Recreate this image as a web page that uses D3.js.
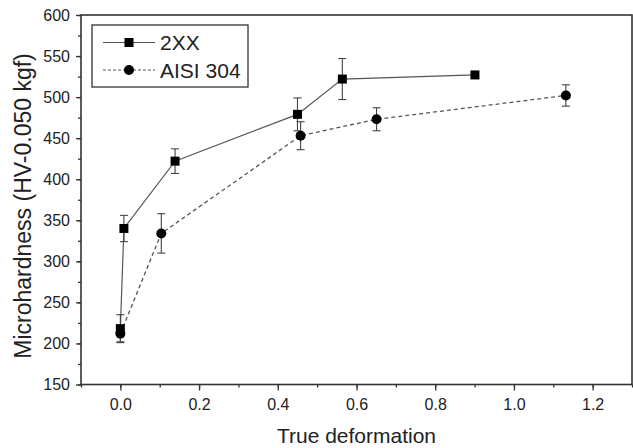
<!DOCTYPE html>
<html>
<head>
<meta charset="utf-8">
<script src="https://cdn.jsdelivr.net/npm/d3@7"></script>
<style>
  body { margin: 0; background: #fff; }
  svg text { font-family: "Liberation Sans", Arial, sans-serif; fill: #222; }
</style>
</head>
<body>
<svg id="chart" width="633" height="448"></svg>
<script>
// data
const x2xx = [0, 0.009, 0.139, 0.45, 0.564, 0.901];
const y2xx = [218, 340, 422, 479, 522, 527];
const err2xx = [17, 16, 15, 20, 25, 3];

const xAisi = [0, 0.104, 0.458, 0.651, 1.132];
const yAisi = [212, 334, 453, 473, 502];
const errAisi = [10, 24, 17, 14, 13];

const xTicks = [0.0, 0.2, 0.4, 0.6, 0.8, 1.0, 1.2];
const yTicks = [150, 200, 250, 300, 350, 400, 450, 500, 550, 600];
const seriesNames = ["2XX", "AISI 304"];

function getSVG(svg_id) {
    return d3.select("#" + svg_id);
}

function makeText(svg_obj, font_size, x, y, text_str, anchor) {
    return svg_obj.append('text')
        .attr('font-size', font_size)
        .attr('x', x)
        .attr('y', y)
        .attr('text-anchor', anchor || 'start')
        .text(text_str);
}

const svg = getSVG("chart");
// plot box, in px
const pLeft = 81, pRight = 632, pTop = 15, pBottom = 384.5;
const axisColor = "#333";
const lineColor = "#555";

const x = d3.scaleLinear().domain([-0.1, 1.3]).range([pLeft, pRight]);
const y = d3.scaleLinear().domain([150, 600]).range([pBottom, pTop]);

// minor ticks first (drawn under the major ones)
const xMinor = d3.axisBottom(x).tickValues(d3.range(-0.1, 1.31, 0.1)).tickSize(3).tickFormat("");
const yMinor = d3.axisLeft(y).tickValues(d3.range(150, 601, 25)).tickSize(3).tickFormat("");

svg.append("g").attr("transform", "translate(0," + pBottom + ")").call(xMinor);
svg.append("g").attr("transform", "translate(" + pLeft + ",0)").call(yMinor);

const xAxis = d3.axisBottom(x).tickValues(xTicks).tickSize(6).tickPadding(8)
    .tickFormat(d3.format(".1f"));
const yAxis = d3.axisLeft(y).tickValues(yTicks).tickSize(5).tickPadding(6)
    .tickFormat(d3.format("d"));

const gx = svg.append("g").attr("transform", "translate(0," + pBottom + ")").call(xAxis);
const gy = svg.append("g").attr("transform", "translate(" + pLeft + ",0)").call(yAxis);

svg.selectAll(".domain").remove();
svg.selectAll(".tick line").attr("stroke", axisColor).attr("stroke-width", 1.3);
gx.selectAll("text").attr("font-size", 16).attr("fill", "#222").style("font-family", "Liberation Sans, Arial, sans-serif");
gy.selectAll("text").attr("font-size", 16).attr("fill", "#222").style("font-family", "Liberation Sans, Arial, sans-serif");

// frame
svg.append("rect")
    .attr("x", pLeft).attr("y", pTop)
    .attr("width", pRight - pLeft).attr("height", pBottom - pTop)
    .attr("fill", "none").attr("stroke", axisColor).attr("stroke-width", 1.6);

// axis titles
makeText(svg, 21, (pLeft + pRight) / 2, 443, "True deformation", "middle");
svg.append('text')
    .attr('font-size', 23)
    .attr('text-anchor', 'middle')
    .attr('transform', 'translate(31,206) rotate(-90)')
    .text("Microhardness (HV-0.050 kgf)");

// series
const s2xx = x2xx.map((v, i) => ({x: v, y: y2xx[i], e: err2xx[i]}));
const sAisi = xAisi.map((v, i) => ({x: v, y: yAisi[i], e: errAisi[i]}));

const line = d3.line().x(d => x(d.x)).y(d => y(d.y));

svg.append("path").datum(sAisi).attr("d", line)
    .attr("fill", "none").attr("stroke", lineColor).attr("stroke-width", 1.3)
    .attr("stroke-dasharray", "4,3");
svg.append("path").datum(s2xx).attr("d", line)
    .attr("fill", "none").attr("stroke", lineColor).attr("stroke-width", 1.2);

function errorBars(data) {
    const g = svg.append("g").attr("stroke", "#444").attr("stroke-width", 1.1);
    data.forEach(d => {
        if (d.e <= 4) return;
        const cx = x(d.x);
        g.append("line").attr("x1", cx).attr("x2", cx).attr("y1", y(d.y + d.e)).attr("y2", y(d.y - d.e));
        g.append("line").attr("x1", cx - 4).attr("x2", cx + 4).attr("y1", y(d.y + d.e)).attr("y2", y(d.y + d.e));
        g.append("line").attr("x1", cx - 4).attr("x2", cx + 4).attr("y1", y(d.y - d.e)).attr("y2", y(d.y - d.e));
    });
}
errorBars(sAisi);
errorBars(s2xx);

svg.append("g").selectAll("circle").data(sAisi).join("circle")
    .attr("cx", d => x(d.x)).attr("cy", d => y(d.y)).attr("r", 5).attr("fill", "#000");
svg.append("g").selectAll("rect").data(s2xx).join("rect")
    .attr("x", d => x(d.x) - 4.5).attr("y", d => y(d.y) - 4.5)
    .attr("width", 9).attr("height", 9).attr("fill", "#000");

// legend
const lg = svg.append("g");
lg.append("rect").attr("x", 92).attr("y", 25).attr("width", 156).attr("height", 62)
    .attr("fill", "#fff").attr("stroke", axisColor).attr("stroke-width", 1.3);
lg.append("line").attr("x1", 103).attr("x2", 155).attr("y1", 42.5).attr("y2", 42.5)
    .attr("stroke", lineColor).attr("stroke-width", 1.2);
lg.append("rect").attr("x", 124.5).attr("y", 38).attr("width", 9).attr("height", 9).attr("fill", "#000");
lg.append("line").attr("x1", 103).attr("x2", 155).attr("y1", 70).attr("y2", 70)
    .attr("stroke", lineColor).attr("stroke-width", 1.2).attr("stroke-dasharray", "3,2");
lg.append("circle").attr("cx", 129).attr("cy", 70).attr("r", 5).attr("fill", "#000");
makeText(lg, 21, 160, 50, seriesNames[0]);
makeText(lg, 21, 160, 77.5, seriesNames[1]);
</script>
</body>
</html>
